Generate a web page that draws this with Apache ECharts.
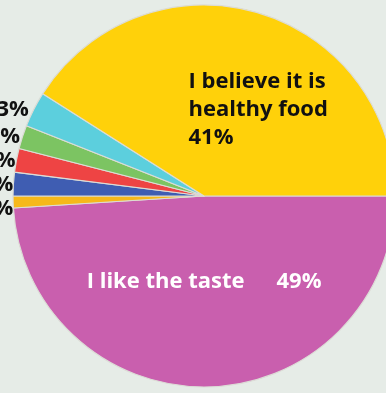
<!DOCTYPE html>
<html>
<head>
<meta charset="utf-8">
<script src="https://cdn.jsdelivr.net/npm/echarts@6/dist/echarts.min.js"></script>
<style>
  html, body { margin: 0; padding: 0; background: #e6ece7; }
  #chart { width: 386px; height: 393px; }
</style>
</head>
<body>
<div id="chart"></div>
<script>
// Reasons for eating the food (share of answers, %)
const reasons = [
  'I like the taste',
  'Other 1',
  'Other 2',
  'Other 3',
  'Other 4',
  'Other 5',
  'I believe it is\nhealthy food'
];
const shares = [49, 1, 2, 2, 2, 3, 41];
const sliceColors = ['#c95fae', '#f6b81a', '#3f5db2', '#ee4444', '#7cc462', '#5ccfdd', '#ffd10a'];

const FONT = '"Open Sans", Lato, sans-serif';
const WEIGHT = 'bold';

// Big slices carry their own labels inside; the small ones get a bold % outside.
const insideLabels = {
  0: {
    show: true, position: 'inside', offset: [-3, -13],
    formatter: p => '{n|' + p.name + '}{v|' + p.value + '%}',
    rich: {
      n: { color: '#ffffff', fontSize: 22, fontWeight: WEIGHT, fontFamily: FONT },
      v: { color: '#ffffff', fontSize: 22, fontWeight: WEIGHT, fontFamily: FONT, padding: [0, 0, 0, 32] }
    }
  },
  6: {
    show: true, position: 'inside', offset: [27, 8],
    formatter: p => (p.name + '\n' + p.value + '%').split('\n').map(s => '{t|' + s + '}').join('\n'),
    rich: {
      t: { width: 140, align: 'left', color: '#111111', fontSize: 22, fontWeight: WEIGHT, fontFamily: FONT, lineHeight: 28 }
    }
  }
};

const pieData = reasons.map((name, i) => {
  const item = { name, value: shares[i], itemStyle: { color: sliceColors[i] } };
  if (insideLabels[i]) item.label = insideLabels[i];
  return item;
});

const chart = echarts.init(document.getElementById('chart'), null, { renderer: 'canvas' });
chart.setOption({
  backgroundColor: '#e6ece7',
  animation: false,
  series: [{
    type: 'pie',
    center: [204, 196],
    radius: 191,
    startAngle: 0,
    clockwise: true,
    avoidLabelOverlap: true,
    itemStyle: { borderColor: '#dcdcd6', borderWidth: 1.2 },
    label: {
      show: true,
      position: 'outside',
      formatter: '{c}%',
      color: '#111111',
      fontSize: 22,
      fontWeight: WEIGHT,
      fontFamily: FONT,
      overflow: 'none',
      bleedMargin: -60
    },
    labelLine: { show: false, length: 0, length2: 0 },
    emphasis: { disabled: true },
    data: pieData
  }]
});
</script>
</body>
</html>
